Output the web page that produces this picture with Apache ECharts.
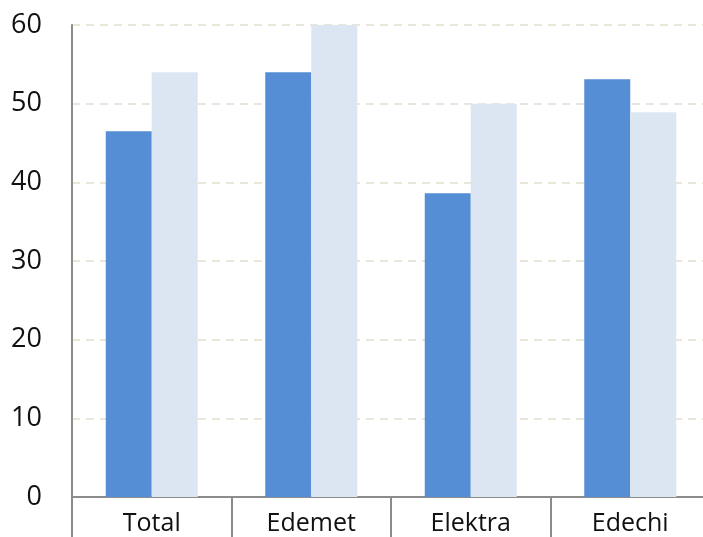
<!DOCTYPE html>
<html><head><meta charset="utf-8">
<script src="https://cdn.jsdelivr.net/npm/echarts@6/dist/echarts.min.js"></script>
<style>html,body{margin:0;padding:0;background:#fff;overflow:hidden}#c{width:712px;height:537px}</style>
</head><body><div id="c"></div>
<script>
var categories = ['Total', 'Edemet', 'Elektra', 'Edechi'];
var seriesA = [46.5, 54, 38.6, 53.1];
var seriesB = [54, 60, 50, 48.9];
var yTicks = [0, 10, 20, 30, 40, 50, 60];

var chart = echarts.init(document.getElementById('c'));
chart.setOption({
  animation: false,
  grid: { left: 72, top: 25, bottom: 40, right: 2 },
  xAxis: {
    type: 'category', data: categories,
    axisLine: { lineStyle: { color: '#8c8c8c', width: 2 } },
    axisTick: { show: true, length: 40, alignWithLabel: false, lineStyle: { color: '#8c8c8c', width: 2 } },
    axisLabel: { fontFamily: 'Open Sans', fontSize: 25, color: '#111', margin: 14 }
  },
  yAxis: {
    type: 'value', min: yTicks[0], max: yTicks[yTicks.length - 1], interval: 10,
    axisLine: { show: true, lineStyle: { color: '#8c8c8c', width: 2 } },
    axisTick: { show: false },
    axisLabel: { fontFamily: 'Open Sans', fontSize: 27, color: '#111', margin: 30 },
    splitLine: { lineStyle: { color: '#ebe6da', width: 2, type: [8, 6] } }
  },
  series: [
    { type: 'bar', data: seriesA, barWidth: 46, barGap: '0%', itemStyle: { color: '#558ed5' } },
    { type: 'bar', data: seriesB, barWidth: 46, barGap: '0%', itemStyle: { color: '#dce6f2' } }
  ]
});
</script></body></html>
